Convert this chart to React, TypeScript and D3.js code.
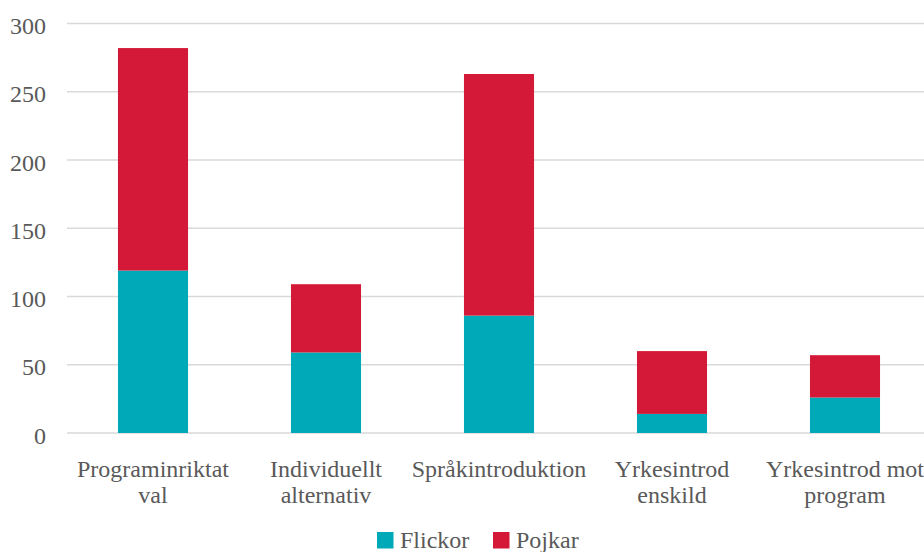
import React from 'react';
import * as d3 from 'd3';

const categories: string[][] = [
    ['Programinriktat', 'val'],
    ['Individuellt', 'alternativ'],
    ['Språkintroduktion'],
    ['Yrkesintrod', 'enskild'],
    ['Yrkesintrod mot', 'program'],
];
const flickor = [119, 59, 86, 14, 26];
const pojkar = [163, 50, 177, 46, 31];
const seriesNames = ['Flickor', 'Pojkar'];
const yTicks = [0, 50, 100, 150, 200, 250, 300];

const colors = ['#00a9b8', '#d41837'];
const textColor = '#595959';
const textStyle = { fontFamily: "'Liberation Serif'", fontSize: 24 };

const width = 924;
const height = 552;
const left = 66.5;
const step = 173;

const x = d3.scaleBand<number>()
    .domain(d3.range(categories.length))
    .range([left, left + step * categories.length])
    .paddingInner(0.595)
    .paddingOuter(0.2975);

const y = d3.scaleLinear().domain([0, 300]).range([433, 23.5]);

const rows = categories.map((_, i) => ({ i, Flickor: flickor[i], Pojkar: pojkar[i] }));
const layers = d3.stack<any>().keys(seriesNames)(rows);

const legendX = [377, 493];

const App: React.FC = () => {
    return (
        <svg
            width={width}
            height={height}
            style={{ position: 'absolute', left: 0, top: 0, background: '#fff' }}
        >
            {/* gridlines */}
            {yTicks.map(t => (
                <line key={t} x1={67} x2={width} y1={y(t)} y2={y(t)} stroke="#d9d9d9" strokeWidth={1.5} />
            ))}
            {/* y labels */}
            {yTicks.map(t => (
                <text key={t} x={46} y={y(t) + 10.5} textAnchor="end" fill={textColor} style={textStyle}>
                    {t}
                </text>
            ))}
            {/* stacked bars */}
            {layers.map((layer, k) => (
                <g key={layer.key} fill={colors[k]}>
                    {layer.map((d: any) => (
                        <rect
                            key={d.data.i}
                            x={x(d.data.i)}
                            width={x.bandwidth()}
                            y={y(d[1])}
                            height={y(d[0]) - y(d[1])}
                        />
                    ))}
                </g>
            ))}
            {/* category labels */}
            {categories.map((lines, i) => {
                const cx = (x(i) as number) + x.bandwidth() / 2;
                return (
                    <text key={i} x={cx} y={y(0) + 44} textAnchor="middle" fill={textColor} style={textStyle}>
                        {lines.map((s, j) => (
                            <tspan key={j} x={cx} dy={j === 0 ? 0 : 26}>{s}</tspan>
                        ))}
                    </text>
                );
            })}
            {/* legend */}
            {seriesNames.map((name, i) => (
                <g key={name} transform={`translate(${legendX[i]},532)`}>
                    <rect width={16.5} height={16.5} fill={colors[i]} />
                    <text x={23} y={16} fill={textColor} style={textStyle}>{name}</text>
                </g>
            ))}
        </svg>
    );
};

export default App;
